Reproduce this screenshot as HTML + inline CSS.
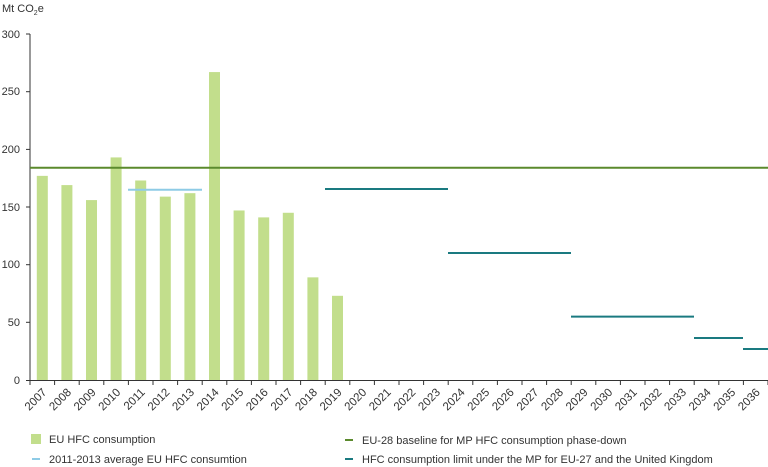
<!DOCTYPE html>
<html><head><meta charset="utf-8"><style>
html,body{margin:0;padding:0;background:#fff;}
svg{display:block;font-family:"Liberation Sans","DejaVu Sans",sans-serif;}
</style></head><body>
<svg width="768" height="467" viewBox="0 0 768 467" xmlns="http://www.w3.org/2000/svg">
<text x="2" y="12" font-size="11" fill="#333">Mt CO<tspan font-size="7" dy="3">2</tspan><tspan dy="-3">e</tspan></text>
<g font-size="11" fill="#333" text-anchor="end">
<text x="20" y="38">300</text>
<text x="20" y="95">250</text>
<text x="20" y="153">200</text>
<text x="20" y="211">150</text>
<text x="20" y="268">100</text>
<text x="20" y="326">50</text>
<text x="20" y="384">0</text>
</g>
<g stroke="#333" stroke-width="1">
<line x1="30" y1="34" x2="30" y2="381"/>
<line x1="26" y1="34" x2="30" y2="34"/>
<line x1="26" y1="91.7" x2="30" y2="91.7"/>
<line x1="26" y1="149.4" x2="30" y2="149.4"/>
<line x1="26" y1="207" x2="30" y2="207"/>
<line x1="26" y1="264.7" x2="30" y2="264.7"/>
<line x1="26" y1="322.3" x2="30" y2="322.3"/>
<line x1="26" y1="380.5" x2="768" y2="380.5"/>
</g>
<g id="bars" fill="#c2de8c"></g>
<g id="ticks" stroke="#333"></g>
<g id="labels" font-size="11.5" fill="#333"></g>
<line x1="30" y1="167.8" x2="768" y2="167.8" stroke="#5b8a2d" stroke-width="2"/>
<line x1="128" y1="189.7" x2="202" y2="189.7" stroke="#8ecbe6" stroke-width="2"/>
<g stroke="#1a7a80" stroke-width="2">
<line x1="325" y1="189" x2="448" y2="189"/>
<line x1="448" y1="253" x2="571" y2="253"/>
<line x1="571" y1="316.6" x2="694" y2="316.6"/>
<line x1="694" y1="338" x2="743" y2="338"/>
<line x1="743" y1="349" x2="768" y2="349"/>
</g>
<rect x="31" y="434" width="10" height="10" fill="#c2de8c"/>
<text x="49" y="443" font-size="11" fill="#333">EU HFC consumption</text>
<line x1="32" y1="459" x2="40" y2="459" stroke="#8ecbe6" stroke-width="2"/>
<text x="49" y="463" font-size="11" fill="#333">2011-2013 average EU HFC consumtion</text>
<line x1="345" y1="440" x2="353" y2="440" stroke="#5b8a2d" stroke-width="2"/>
<text x="362" y="444" font-size="11" fill="#333">EU-28 baseline for MP HFC consumption phase-down</text>
<line x1="345" y1="459" x2="353" y2="459" stroke="#1a7a80" stroke-width="2"/>
<text x="362" y="463" font-size="11" fill="#333">HFC consumption limit under the MP for EU-27 and the United Kingdom</text>
</svg>
<script>
var ns="http://www.w3.org/2000/svg";
var vals=[177,169,156,193,173,159,162,267,147,141,145,89,73];
var step=24.6,x0=30;
var b=document.getElementById("bars"),t=document.getElementById("ticks"),l=document.getElementById("labels");
vals.forEach(function(v,i){var r=document.createElementNS(ns,"rect");var c=x0+step*(i+0.5);var h=v*1.1533;
r.setAttribute("x",c-5.5);r.setAttribute("width",11);r.setAttribute("y",380-h);r.setAttribute("height",h);b.appendChild(r);});
for(var i=0;i<=30;i++){var x=x0+step*i;var ln=document.createElementNS(ns,"line");ln.setAttribute("x1",x);ln.setAttribute("x2",x);ln.setAttribute("y1",380);ln.setAttribute("y2",385);t.appendChild(ln);}
for(var i=0;i<30;i++){var c=x0+step*(i+0.5)+5;var tx=document.createElementNS(ns,"text");tx.setAttribute("text-anchor","end");tx.setAttribute("transform","translate("+c+",393) rotate(-45)");tx.textContent=2007+i;l.appendChild(tx);}
</script>
</body></html>
